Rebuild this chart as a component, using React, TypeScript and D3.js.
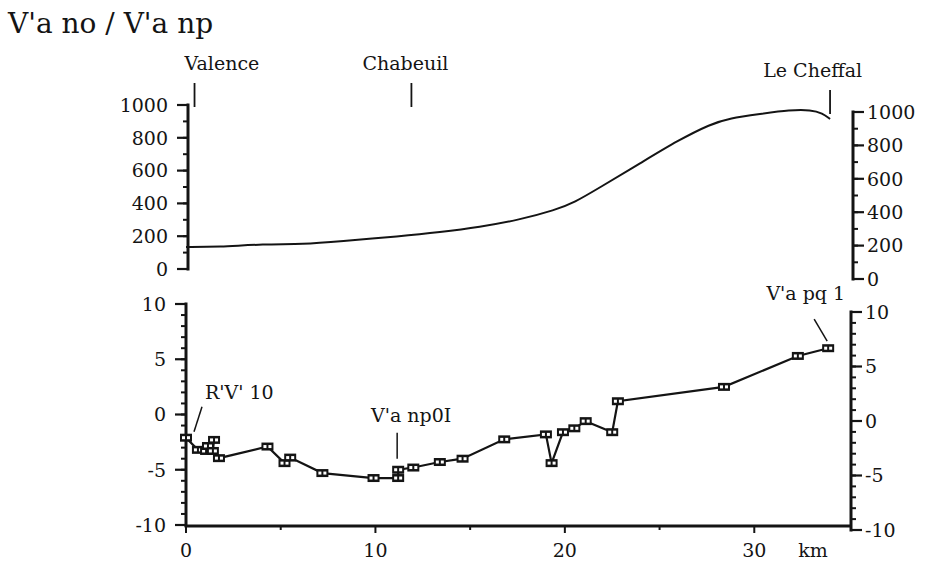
import React from "react";
import * as d3 from "d3";

const W = 928;
const H = 564;
const FONT = "'DejaVu Serif', serif";

const titleText = "V'a no / V'a np";

// Elevation profile (km, m)
const elevKm = [0, 1.7, 4.1, 6.2, 8.1, 11.3, 13.4, 15.5, 17.6, 19.5, 20.5, 21.8, 24, 26, 27.7, 28.7, 30.3, 31.9, 33, 33.6, 34];
const elevM = [134, 134, 152, 150, 168, 200, 225, 256, 300, 360, 405, 494, 646, 786, 884, 920, 945, 970, 970, 950, 915];

// Levelling differences (km, value)
const diffKm = [0, 0.63, 1.06, 1.16, 1.48, 1.42, 1.74, 4.3, 5.2, 5.5, 7.2, 9.9, 11.2, 11.2, 12.0, 13.4, 14.6, 16.8, 19.0, 19.3, 19.9, 20.5, 21.1, 22.5, 22.8, 28.4, 32.3, 33.9];
const diffV = [-2.1, -3.2, -3.3, -2.85, -2.3, -3.3, -3.95, -2.9, -4.4, -3.9, -5.3, -5.75, -5.75, -5.0, -4.8, -4.3, -4.0, -2.25, -1.8, -4.4, -1.6, -1.25, -0.6, -1.6, 1.2, 2.5, 5.3, 6.0];

// Places on the top chart
const placeNames = ["Valence", "Chabeuil", "Le Cheffal"];
const placeKm = [0.45, 11.9, 34.0];

const elevTicks = [0, 200, 400, 600, 800, 1000];
const diffTicks = [-10, -5, 0, 5, 10];
const kmTicks = [0, 10, 20, 30];

export default function App() {
  const x = d3.scaleLinear().domain([0, 35]).range([186, 849]);
  const yTopL = d3.scaleLinear().domain([0, 1000]).range([269, 105]);
  const yTopR = d3.scaleLinear().domain([0, 1000]).range([279, 112]);
  const yBotL = d3.scaleLinear().domain([-10, 10]).range([525, 304]);
  const yBotR = d3.scaleLinear().domain([-10, 10]).range([530, 312]);

  const elevLine = d3
    .line<number>()
    .x((_, i) => x(elevKm[i]))
    .y((d) => yTopL(d))
    .curve(d3.curveBasis);
  const diffLine = d3
    .line<number>()
    .x((_, i) => x(diffKm[i]))
    .y((d) => yBotL(d));

  const stroke = "#141414";
  const fs = 19;

  const leftAxis = (xa: number, y: d3.ScaleLinear<number, number>, majors: number[], minorStep: number, fmt: (v: number) => string) => {
    const [d0, d1] = y.domain();
    const minors = d3.range(d0, d1 + 1e-9, minorStep);
    return (
      <g>
        <line x1={xa} x2={xa} y1={y(d0) + 1.5} y2={y(d1) - 1.5} stroke={stroke} strokeWidth={3} />
        {minors.map((v) => (
          <line key={"m" + v} x1={xa - 5} x2={xa} y1={y(v)} y2={y(v)} stroke={stroke} strokeWidth={2} />
        ))}
        {majors.map((v) => (
          <g key={"M" + v}>
            <line x1={xa - 11} x2={xa} y1={y(v)} y2={y(v)} stroke={stroke} strokeWidth={2.2} />
            <text x={xa - 20} y={y(v)} dy="0.36em" textAnchor="end" fontSize={fs} fontFamily={FONT} fill={stroke}>
              {fmt(v)}
            </text>
          </g>
        ))}
      </g>
    );
  };

  const rightAxis = (xa: number, y: d3.ScaleLinear<number, number>, majors: number[], minorStep: number, fmt: (v: number) => string) => {
    const [d0, d1] = y.domain();
    const minors = d3.range(d0, d1 + 1e-9, minorStep);
    return (
      <g>
        <line x1={xa} x2={xa} y1={y(d0) + 1.5} y2={y(d1) - 1.5} stroke={stroke} strokeWidth={3} />
        {minors.map((v) => (
          <line key={"m" + v} x1={xa} x2={xa + 5} y1={y(v)} y2={y(v)} stroke={stroke} strokeWidth={2} />
        ))}
        {majors.map((v) => (
          <g key={"M" + v}>
            <line x1={xa} x2={xa + 11} y1={y(v)} y2={y(v)} stroke={stroke} strokeWidth={2.2} />
            <text x={xa + 14} y={y(v)} dy="0.36em" textAnchor="start" fontSize={fs} fontFamily={FONT} fill={stroke}>
              {fmt(v)}
            </text>
          </g>
        ))}
      </g>
    );
  };

  const xAxisY = 526;

  return (
    <svg width={W} height={H} style={{ position: "absolute", left: 0, top: 0, background: "#fff" }}>
      <rect width={W} height={H} fill="#fff" />
      <text x={8} y={33} fontSize={28} fontFamily={FONT} fill={stroke}>
        {titleText}
      </text>

      {/* place labels */}
      {placeNames.map((name, i) => {
        const px = x(placeKm[i]);
        const off = i === 2 ? 7 : 0;
        const tx = i === 0 ? px - 10 : i === 2 ? px + 32 : px - 6;
        const anchor = i === 0 ? "start" : i === 2 ? "end" : "middle";
        return (
          <g key={name}>
            <text x={tx} y={70 + off} fontSize={fs} fontFamily={FONT} textAnchor={anchor} fill={stroke}>
              {name}
            </text>
            <line x1={px} x2={px} y1={83 + off} y2={107 + off} stroke={stroke} strokeWidth={1.8} />
          </g>
        );
      })}

      {/* top chart */}
      {leftAxis(188, yTopL, elevTicks, 100, (v) => String(v))}
      {rightAxis(853, yTopR, elevTicks, 100, (v) => String(v))}
      <path d={elevLine(elevM) || ""} fill="none" stroke={stroke} strokeWidth={2} />

      {/* bottom chart */}
      {leftAxis(186, yBotL, diffTicks, 1, (v) => String(v))}
      {rightAxis(851, yBotR, diffTicks, 1, (v) => String(v))}
      <line x1={x(0) - 1.5} x2={852} y1={xAxisY} y2={xAxisY} stroke={stroke} strokeWidth={3} />
      {d3.range(0, 35, 5).map((k) => (
        <line key={"xt" + k} x1={x(k)} x2={x(k)} y1={xAxisY} y2={xAxisY + (k % 10 === 0 ? 7 : 4)} stroke={stroke} strokeWidth={2} />
      ))}
      {kmTicks.map((k) => (
        <text key={"xl" + k} x={x(k)} y={557} textAnchor="middle" fontSize={fs} fontFamily={FONT} fill={stroke}>
          {k}
        </text>
      ))}
      <text x={x(30) + 44} y={557} fontSize={fs} fontFamily={FONT} fill={stroke}>
        km
      </text>

      <path d={diffLine(diffV) || ""} fill="none" stroke={stroke} strokeWidth={2.2} />
      {diffV.map((v, i) => {
        const cx = x(diffKm[i]);
        const cy = yBotL(v);
        return (
          <g key={"p" + i}>
            <rect x={cx - 6} y={cy - 4} width={12} height={8} fill={stroke} />
            <rect x={cx - 4} y={cy - 1.5} width={3} height={3} fill="#fff" />
            <rect x={cx + 1} y={cy - 1.5} width={3} height={3} fill="#fff" />
          </g>
        );
      })}

      {/* annotations */}
      <line x1={x(diffKm[0]) + 8} x2={x(diffKm[0]) + 16} y1={yBotL(diffV[0]) - 6} y2={yBotL(diffV[0]) - 31} stroke={stroke} strokeWidth={1.5} />
      <text x={x(diffKm[0]) + 19} y={yBotL(diffV[0]) - 39} fontSize={fs} fontFamily={FONT} fill={stroke}>
        R'V' 10
      </text>

      <line x1={x(diffKm[13]) - 1} x2={x(diffKm[13]) - 1} y1={yBotL(diffV[13]) - 11} y2={yBotL(diffV[13]) - 37} stroke={stroke} strokeWidth={1.5} />
      <text x={x(diffKm[13]) + 13} y={yBotL(diffV[13]) - 48} textAnchor="middle" fontSize={fs} fontFamily={FONT} fill={stroke}>
        V'a np0I
      </text>

      <line x1={x(diffKm[27]) - 1} x2={x(diffKm[27]) - 14} y1={yBotL(diffV[27]) - 7} y2={yBotL(diffV[27]) - 29} stroke={stroke} strokeWidth={1.5} />
      <text x={x(diffKm[27]) + 17} y={yBotL(diffV[27]) - 48} textAnchor="end" fontSize={fs} fontFamily={FONT} fill={stroke}>
        V'a pq 1
      </text>
    </svg>
  );
}
